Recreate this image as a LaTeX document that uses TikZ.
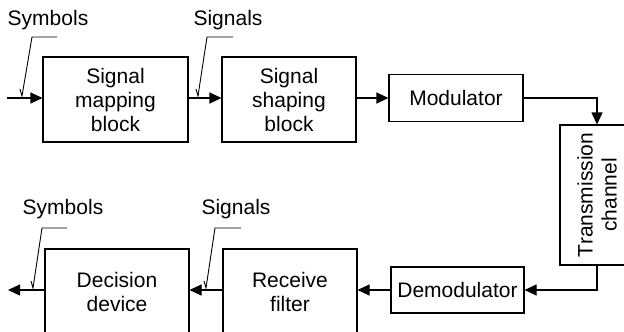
\documentclass[tikz,border=0pt]{standalone}
\usepackage{fontspec}
\setmainfont{Liberation Sans}
\usetikzlibrary{arrows.meta}
\begin{document}
\begin{tikzpicture}[x=1pt,y=-1pt,
        block/.style={draw,line width=1.1pt,inner sep=0pt,align=center,font=\fontsize{21}{24}\selectfont},
        flow/.style={line width=1.1pt,-{Triangle[length=12pt,width=11pt]}},
        lead/.style={line width=0.9pt},
        tag/.style={inner sep=0pt,font=\fontsize{21}{24}\selectfont}]
        \useasboundingbox (0,0) rectangle (624,332);
        % transmitter chain
        \node [block,minimum width=145,minimum height=85] (map) at (115.5,99.5) {Signal\\mapping\\block};
        \node [block,minimum width=134,minimum height=85] (shape) at (289,99.5) {Signal\\shaping\\block};
        \node [block,minimum width=134,minimum height=47] (mod) at (456,98) {Modulator};
        \node [block,rotate=90,minimum width=140,minimum height=74] (chan) at (597,195) {Transmission\\channel};
        % receiver chain
        \node [block,minimum width=133,minimum height=46] (demod) at (457.5,290) {Demodulator};
        \node [block,minimum width=134,minimum height=85] (recv) at (290,291.5) {Receive\\filter};
        \node [block,minimum width=144,minimum height=85] (dec) at (117,291.5) {Decision\\device};
        \coordinate (in) at (7,98);
        \coordinate (out) at (8,290);
        \draw [flow] (in) -- (map.west |- in);
        \draw [flow] (map.east |- in) -- (shape.west |- in);
        \draw [flow] (shape.east |- in) -- (mod.west |- in);
        \draw [flow] (mod.east) -| (chan);
        \draw [flow] (chan) |- (demod.east);
        \draw [flow] (demod.west) -- (recv.east |- demod.west);
        \draw [flow] (recv.west |- demod.west) -- (dec.east |- demod.west);
        \draw [flow] (dec.west |- demod.west) -- (out);
        % labels with leader lines
        \node [tag] (sym1) at (48,20) {Symbols};
        \node [tag] (sig1) at (228,20) {Signals};
        \node [tag] (sym2) at (63,209) {Symbols};
        \node [tag] (sig2) at (236,209) {Signals};
        \draw [lead] (57,37) -- (32,37) -- (22,96) -- ++(-2,-7);
        \draw [lead] (233,37) -- (207,37) -- (198,96) -- ++(-2,-7);
        \draw [lead] (67,228) -- (42,228) -- (33,288) -- ++(-2,-7);
        \draw [lead] (241,228) -- (215,228) -- (206,288) -- ++(-2,-7);
\end{tikzpicture}
\end{document}
